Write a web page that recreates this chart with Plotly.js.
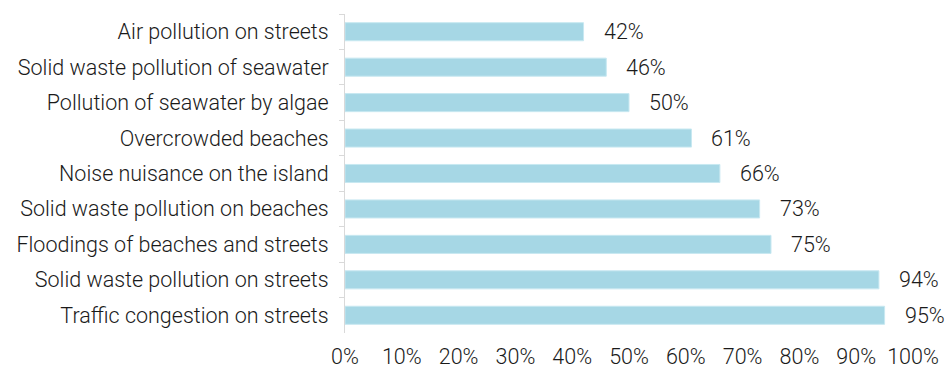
<!DOCTYPE html>
<html>
<head>
<meta charset="utf-8">
<script src="https://cdn.plot.ly/plotly-3.0.1.min.js"></script>
<style>html,body{margin:0;padding:0;background:#fff;}#chart{width:949px;height:365px;}</style>
</head>
<body>
<div id="chart"></div>
<script>
const categories = [
  "Air pollution on streets",
  "Solid waste pollution of seawater",
  "Pollution of seawater by algae",
  "Overcrowded beaches",
  "Noise nuisance on the island",
  "Solid waste pollution on beaches",
  "Floodings of beaches and streets",
  "Solid waste pollution on streets",
  "Traffic congestion on streets"
];
const values = [0.42, 0.46, 0.50, 0.61, 0.66, 0.73, 0.75, 0.94, 0.95];
const tickVals = [0, 0.1, 0.2, 0.3, 0.4, 0.5, 0.6, 0.7, 0.8, 0.9, 1.0];
const tickLabels = ["0%", "10%", "20%", "30%", "40%", "50%", "60%", "70%", "80%", "90%", "100%"];

const font = {family: "Roboto, 'Liberation Sans', sans-serif", size: 21.5, color: "#1a1a1a", weight: 300};

const trace = {
  type: "bar",
  orientation: "h",
  y: categories,
  x: values,
  marker: {color: "#a6d7e5", line: {color: "#c8e8f1", width: 1}},
  hoverinfo: "skip"
};

const annotations = values.map((v, i) => ({
  x: v, y: categories[i], xref: "x", yref: "y",
  text: Math.round(v * 100) + "%",
  showarrow: false, xanchor: "left", xshift: 18,
  font: font
}));

const layout = {
  width: 949, height: 365,
  margin: {l: 345, r: 36, t: 14, b: 32},
  paper_bgcolor: "#fff", plot_bgcolor: "#fff",
  showlegend: false,
  bargap: 0.49,
  font: font,
  xaxis: {
    range: [0, 1], tickvals: tickVals, ticktext: tickLabels,
    showgrid: false, zeroline: false, showline: false,
    ticks: "outside", ticklen: 4, tickcolor: "rgba(0,0,0,0)",
    tickfont: font, fixedrange: true
  },
  yaxis: {
    categoryorder: "array", categoryarray: categories.slice(),
    autorange: "reversed",
    showgrid: false, zeroline: false,
    showline: true, linecolor: "#d9d9d9", linewidth: 1,
    ticks: "outside", tickson: "boundaries", ticklen: 5, tickcolor: "#d9d9d9",
    ticklabelstandoff: 11,
    tickfont: font, fixedrange: true
  },
  annotations: annotations
};

Plotly.newPlot("chart", [trace], layout, {displayModeBar: false, staticPlot: true});
</script>
</body>
</html>
